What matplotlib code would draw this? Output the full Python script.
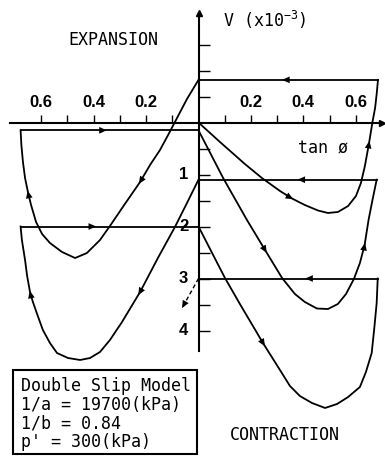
import numpy as np
import matplotlib.pyplot as plt
from matplotlib.patches import Rectangle

plt.rcParams['font.family'] = 'DejaVu Sans Mono'
plt.rcParams['mathtext.fontset'] = 'custom'
plt.rcParams['mathtext.rm'] = 'DejaVu Sans Mono'

# stress paths: tan(phi) (extension side negative) vs volumetric strain V (x1e-3, contraction +)
comp1_tan = [0.0, 0.082, 0.177, 0.242, 0.311, 0.357, 0.406, 0.456, 0.494, 0.532,
             0.571, 0.601, 0.620, 0.635, 0.651, 0.664, 0.674, 0.680, 0.685]
comp1_v = [0.0, 0.375, 0.798, 1.067, 1.317, 1.462, 1.587, 1.692, 1.740, 1.721,
           1.606, 1.413, 1.163, 0.837, 0.394, -0.01, -0.279, -0.548, -0.82]

ext1_tan = [0.0, -0.044, -0.086, -0.116, -0.147, -0.185, -0.223, -0.281, -0.338, -0.376,
            -0.426, -0.471, -0.521, -0.567, -0.597, -0.620, -0.639, -0.651, -0.662, -0.670,
            -0.676, -0.679]
ext1_v = [-0.82, -0.452, -0.048, 0.240, 0.529, 0.817, 1.144, 1.567, 1.990, 2.260,
          2.510, 2.606, 2.490, 2.317, 2.144, 1.913, 1.587, 1.337, 1.067, 0.760,
          0.433, 0.15]

comp2_tan = [0.0, 0.094, 0.185, 0.254, 0.319, 0.368, 0.406, 0.452, 0.494, 0.532,
             0.563, 0.593, 0.616, 0.634, 0.649, 0.664, 0.680]
comp2_v = [0.15, 1.067, 1.875, 2.452, 2.990, 3.298, 3.452, 3.577, 3.587, 3.490,
           3.298, 3.010, 2.702, 2.356, 1.875, 1.490, 1.10]

ext2_tan = [0.0, -0.044, -0.090, -0.155, -0.223, -0.292, -0.338, -0.376, -0.414, -0.452,
            -0.498, -0.540, -0.567, -0.594, -0.616, -0.632, -0.643, -0.654, -0.662, -0.674,
            -0.679]
ext2_v = [1.10, 1.548, 2.010, 2.606, 3.260, 3.837, 4.183, 4.413, 4.529, 4.567,
          4.529, 4.433, 4.240, 3.990, 3.683, 3.452, 3.260, 2.952, 2.644, 2.260,
          2.00]

comp3_tan = [0.0, 0.052, 0.101, 0.158, 0.246, 0.311, 0.349, 0.387, 0.433, 0.483,
             0.529, 0.571, 0.616, 0.639, 0.661, 0.671, 0.680, 0.684]
comp3_v = [2.00, 2.51, 2.990, 3.490, 4.240, 4.760, 5.067, 5.260, 5.394, 5.490,
           5.413, 5.279, 5.087, 4.798, 4.433, 3.952, 3.471, 3.00]

# start of the next extension stage (only hinted)
next_tan = [0.0, -0.063]
next_v = [3.00, 3.57]

x_ticks = [0.2, 0.4, 0.6]
v_ticks = [1, 2, 3, 4]

model_text = ["Double Slip Model", "1/a = 19700(kPa)", "1/b = 0.84", "p' = 300(kPa)"]


def arrow(ax, x0, y0, x1, y1):
    ax.annotate('', xy=(x1, y1), xytext=(x0, y0),
                arrowprops=dict(arrowstyle='-|>,head_length=0.5,head_width=0.22',
                                color='black', lw=0, mutation_scale=11,
                                shrinkA=0, shrinkB=0))


def curve_arrow(ax, xs, ys, i):
    # small head at point i pointing along the path
    dx = xs[i + 1] - xs[i - 1]
    dy = ys[i + 1] - ys[i - 1]
    arrow(ax, xs[i] - 0.05 * dx, ys[i] - 0.05 * dy, xs[i] + 0.05 * dx, ys[i] + 0.05 * dy)


fig = plt.figure(figsize=(3.85, 4.58), dpi=100)
ax = fig.add_axes([0, 0, 1, 1])
ax.set_xlim(-0.7576, 0.7118)
ax.set_ylim(6.452, -2.356)

# axes through the origin
for s in ['top', 'right']:
    ax.spines[s].set_visible(False)
ax.spines['left'].set_position(('data', 0))
ax.spines['bottom'].set_position(('data', 0))
ax.spines['bottom'].set_bounds(-0.72, 0.70)
ax.spines['left'].set_bounds(-2.1, 4.4)
ax.spines['left'].set_linewidth(1.5)
ax.spines['bottom'].set_linewidth(1.5)
ax.set_xticks([t / 10 for t in range(-6, 7) if t != 0])
ax.set_yticks([t / 2 for t in range(-3, 9) if t != 0])
ax.tick_params(axis='x', direction='in', length=6, width=1, labelbottom=False)
ax.tick_params(axis='y', direction='in', length=8, width=1, labelleft=False)
ax.plot(0.70, 0, marker='>', ms=4, color='black', clip_on=False)
ax.plot(0, -2.1, marker='^', ms=4, color='black', clip_on=False)

for t in x_ticks:
    for xv in (t, -t):
        ax.annotate(f'{t:.1f}', (xv, 0), xytext=(0, 20), textcoords='offset pixels',
                    ha='center', va='center', family='Liberation Sans',
                    weight='bold', fontsize=12)
for v in v_ticks:
    ax.annotate(str(v), (0, v), xytext=(-15, 0), textcoords='offset pixels',
                ha='center', va='center', family='Liberation Sans',
                weight='bold', fontsize=12)

paths = [(comp1_tan, comp1_v, [5, 14], 0.48),
         (ext1_tan, ext1_v, [6, 17], 0.53),
         (comp2_tan, comp2_v, [3, 13], 0.57),
         (ext2_tan, ext2_v, [4, 16], 0.59),
         (comp3_tan, comp3_v, [4], 0.61)]

for xs, ys, heads, frac in paths:
    ax.plot(xs, ys, color='black', lw=1.3, solid_joinstyle='round')
    for i in heads:
        curve_arrow(ax, xs, ys, i)
    # unloading back to tan(phi) = 0 at constant V
    ax.plot([xs[-1], 0], [ys[-1], ys[-1]], color='black', lw=1.3)
    xa = xs[-1] * frac
    arrow(ax, xa, ys[-1], xa - 0.01 * np.sign(xs[-1]), ys[-1])

ax.plot(next_tan, next_v, color='black', lw=1.0, ls=(0, (3, 2)))
arrow(ax, next_tan[0] + 0.9 * (next_tan[1] - next_tan[0]), next_v[0] + 0.9 * (next_v[1] - next_v[0]),
      next_tan[1], next_v[1])

fig.text(113 / 385, 1 - 40 / 458, 'EXPANSION', ha='center', va='center', fontsize=12)
fig.text(223 / 385, 1 - 20 / 458, r'V (x10$\mathregular{^{-3}}$)', ha='left', va='center', fontsize=12)
fig.text(323 / 385, 1 - 148 / 458, 'tan \u00f8', ha='center', va='center', fontsize=12)
fig.text(285 / 385, 1 - 435 / 458, 'CONTRACTION', ha='center', va='center', fontsize=12)

# model parameter box
fig.patches.append(Rectangle((12.7 / 385, 1 - 454 / 458), 184.6 / 385, 84 / 458,
                             transform=fig.transFigure, fill=False, ec='black', lw=1.5))
fig.text(21 / 385, 1 - 377 / 458, '\n'.join(model_text), ha='left', va='top', fontsize=12,
         linespacing=1.05)

fig.savefig('out.png', dpi=100)
